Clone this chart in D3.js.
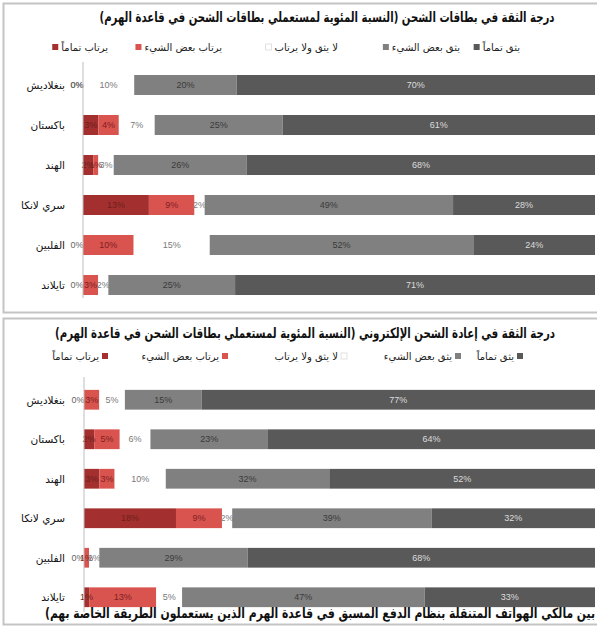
<!DOCTYPE html>
<html>
<head>
<meta charset="utf-8">
<script src="https://cdn.jsdelivr.net/npm/d3@7"></script>
<style>
  html, body { margin: 0; padding: 0; background: #fff; }
  svg { display: block; }
  .title { font-family: "DejaVu Sans", sans-serif; font-weight: bold; font-size: 14px; fill: #111; }
  .leg { font-family: "DejaVu Sans", sans-serif; font-size: 10px; fill: #222; }
  .cat { font-family: "DejaVu Sans", sans-serif; font-size: 10.5px; fill: #111; }
  .pct { font-family: "Liberation Sans", sans-serif; font-size: 9px; }
</style>
</head>
<body>
<svg id="chart" width="597" height="628" viewBox="0 0 597 628"></svg>
<script>
// categories (countries), top to bottom
var countries = ["بنغلاديش", "باكستان", "الهند", "سري لانكا", "الفلبين", "تايلاند"];

// series, left to right in each bar
var seriesNames = ["يرتاب تماماً", "يرتاب بعض الشيء", "لا يثق ولا يرتاب", "يثق بعض الشيء", "يثق تماماً"];

// chart 1: trust in top-up cards (% of users)
var cardsDistrustFully  = [0, 3, 2, 13, 0, 0];
var cardsDistrustSome   = [0, 4, 1, 9, 10, 3];
var cardsNeutral        = [10, 7, 3, 2, 15, 2];
var cardsTrustSome      = [20, 25, 26, 49, 52, 25];
var cardsTrustFully     = [70, 61, 68, 28, 24, 71];

// chart 2: trust in electronic top-up (% of users)
var eDistrustFully  = [0, 2, 3, 18, 0, 1];
var eDistrustSome   = [3, 5, 3, 9, 1, 13];
var eNeutral        = [5, 6, 10, 2, 2, 5];
var eTrustSome      = [15, 23, 32, 39, 29, 47];
var eTrustFully     = [77, 64, 52, 32, 68, 33];

var title1 = "درجة الثقة في بطاقات الشحن (النسبة المئوية لمستعملي بطاقات الشحن في قاعدة الهرم)";
var title2 = "درجة الثقة في إعادة الشحن الإلكتروني (النسبة المئوية لمستعملي بطاقات الشحن في قاعدة الهرم)";
var overflowText = "بين مالكي الهواتف المتنقلة بنظام الدفع المسبق في قاعدة الهرم الذين يستعملون الطريقة الخاصة بهم)";

var colors = ["#a3302e", "#d9534f", "#ffffff", "#808080", "#595959"];
var labelColors = ["#6e1f1f", "#7e2222", "#7a7a7a", "#3a3a3a", "#dcdcdc"];

var svg = d3.select("#chart");

// squeeze a text horizontally to the given width, keeping its height
function squeeze(sel, w) {
  sel.attr("textLength", w).attr("lengthAdjust", "spacingAndGlyphs");
}

// panel frames
svg.append("rect").attr("x", 3.5).attr("y", 3.5).attr("width", 600).attr("height", 309)
  .attr("fill", "none").attr("stroke", "#c4c4c4").attr("stroke-width", 2);
svg.append("rect").attr("x", 3.5).attr("y", 318.5).attr("width", 600).attr("height", 306)
  .attr("fill", "none").attr("stroke", "#c4c4c4").attr("stroke-width", 2);

function drawChart(cfg) {
  var cols = cfg.data;
  var rows = countries.map(function (c, i) {
    var vals = cols.map(function (s) { return s[i]; });
    return { name: c, vals: vals, total: d3.sum(vals) };
  });

  var x = d3.scaleLinear().domain([0, 1]).range([cfg.x0, 595]);
  var y = d3.scaleBand().domain(countries).range(cfg.yRange).paddingInner(0.5).paddingOuter(0.25);

  var g = svg.append("g");

  var t = g.append("text").attr("class", "title").attr("x", cfg.titleX).attr("y", cfg.titleY)
    .attr("text-anchor", "middle").attr("direction", "rtl").text(cfg.title);
  squeeze(t, cfg.titleW);

  // legend: text right edge at legText[i], marker left or right of it
  seriesNames.forEach(function (name, i) {
    var lt = g.append("text").attr("class", "leg")
      .attr("x", cfg.legText[i]).attr("y", cfg.legY)
      .attr("text-anchor", "start").attr("direction", "rtl").text(name);
    var w = lt.node().getComputedTextLength();
    var mx = cfg.markLeft ? cfg.legText[i] - w - 9 : cfg.legText[i] + 3;
    g.append("rect").attr("x", mx).attr("y", cfg.legY - 7)
      .attr("width", 6).attr("height", 6)
      .attr("fill", colors[i])
      .attr("stroke", i === 2 ? "#e2e2e2" : "none");
  });

  // bars
  var rowG = g.selectAll("g.row").data(rows).join("g").attr("class", "row");
  rowG.each(function (r) {
    var acc = 0;
    var segs = r.vals.map(function (v, k) {
      var s = { k: k, v: v, a: acc / r.total, b: (acc + v) / r.total };
      acc += v;
      return s;
    });
    var sel = d3.select(this);
    sel.selectAll("rect").data(segs).join("rect")
      .attr("x", function (s) { return x(s.a); })
      .attr("width", function (s) { return x(s.b) - x(s.a); })
      .attr("y", y(r.name)).attr("height", y.bandwidth())
      .attr("fill", function (s) { return colors[s.k]; });
    sel.selectAll("text.pct").data(segs).join("text").attr("class", "pct")
      .attr("x", function (s) { return (x(s.a) + x(s.b)) / 2 - (s.v === 0 ? 6 : 0); })
      .attr("y", y(r.name) + y.bandwidth() / 2 + 3.2)
      .attr("text-anchor", "middle")
      .attr("fill", function (s) { return s.v === 0 ? "#666" : labelColors[s.k]; })
      .text(function (s) { return s.v + "%"; });
    sel.append("text").attr("class", "cat")
      .attr("x", 65).attr("y", y(r.name) + y.bandwidth() / 2 + 4)
      .attr("text-anchor", "start").attr("direction", "rtl").text(r.name);
  });

  // category axis line
  g.append("line").attr("x1", cfg.x0).attr("x2", cfg.x0)
    .attr("y1", cfg.axisY[0]).attr("y2", cfg.axisY[1])
    .attr("stroke", "#bdbdbd").attr("stroke-width", 1);
}

drawChart({
  data: [cardsDistrustFully, cardsDistrustSome, cardsNeutral, cardsTrustSome, cardsTrustFully],
  title: title1, titleX: 327, titleY: 22, titleW: 455,
  legY: 51, markLeft: true,
  legText: [108, 222, 338, 460, 520],
  x0: 83, yRange: [65, 305], axisY: [62, 298]
});

drawChart({
  data: [eDistrustFully, eDistrustSome, eNeutral, eTrustSome, eTrustFully],
  title: title2, titleX: 305, titleY: 338, titleW: 500,
  legY: 360, markLeft: false,
  legText: [99, 219, 338, 452, 514],
  x0: 84, yRange: [380, 617], axisY: [377, 612]
});

var ov = svg.append("text").attr("class", "title").attr("x", 320).attr("y", 618)
  .attr("text-anchor", "middle").attr("direction", "rtl").text(overflowText);
squeeze(ov, 550);
</script>
</body>
</html>
